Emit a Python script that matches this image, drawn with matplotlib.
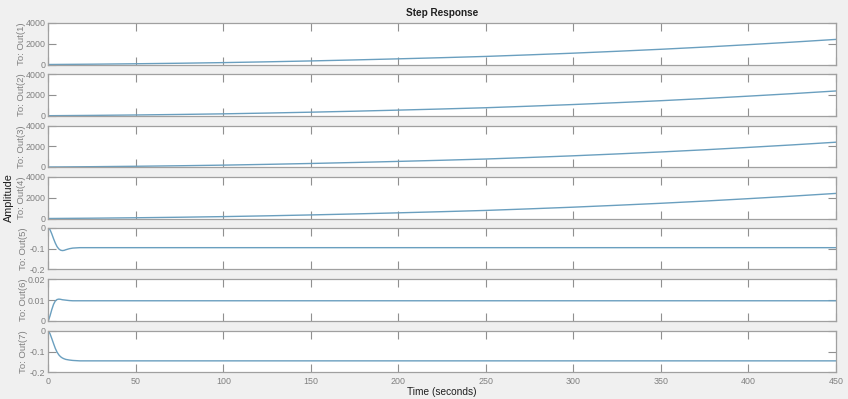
import matplotlib
matplotlib.use("Agg")
import matplotlib.pyplot as plt

plt.rcParams["font.family"] = ["Liberation Sans", "DejaVu Sans"]

# ---- data ----
t_slow = [0, 25, 50, 75, 100, 125, 150, 175, 200, 225, 250, 275, 300, 325, 350, 375, 400, 425, 450]
out1 = [0, 30, 70, 120, 180, 255, 340, 435, 540, 650, 770, 920, 1080, 1260, 1450, 1660, 1890, 2130, 2390]
out2 = [0, 30, 70, 120, 180, 255, 340, 435, 540, 650, 770, 920, 1080, 1260, 1450, 1660, 1890, 2130, 2390]
out3 = [0, 30, 70, 120, 180, 255, 340, 435, 540, 650, 770, 920, 1080, 1260, 1450, 1660, 1890, 2130, 2390]
out4 = [0, 30, 70, 120, 180, 255, 340, 435, 540, 650, 770, 920, 1080, 1260, 1450, 1660, 1890, 2130, 2390]

t_fast = [0, 1, 2, 3, 4, 5, 6, 7, 8, 9, 10, 12, 14, 16, 18, 20, 30, 450]
out5 = [0, -0.010, -0.030, -0.053, -0.074, -0.091, -0.102, -0.108, -0.110, -0.109, -0.106,
        -0.101, -0.098, -0.097, -0.096, -0.096, -0.096, -0.096]
out6 = [0, 0.0025, 0.0055, 0.0080, 0.0096, 0.0103, 0.0105, 0.0104, 0.0102, 0.0101, 0.0100,
        0.0098, 0.0097, 0.0097, 0.0097, 0.0097, 0.0097, 0.0097]
out7 = [0, -0.015, -0.038, -0.062, -0.085, -0.103, -0.116, -0.125, -0.131, -0.135, -0.138,
        -0.141, -0.143, -0.144, -0.145, -0.145, -0.145, -0.145]

series = [(t_slow, out1), (t_slow, out2), (t_slow, out3), (t_slow, out4),
          (t_fast, out5), (t_fast, out6), (t_fast, out7)]
out_names = ["To: Out(1)", "To: Out(2)", "To: Out(3)", "To: Out(4)",
             "To: Out(5)", "To: Out(6)", "To: Out(7)"]
ylims = [(0, 4000)] * 4 + [(-0.2, 0), (0, 0.02), (-0.2, 0)]
yticks = [[0, 2000, 4000]] * 4 + [[-0.2, -0.1, 0], [0, 0.01, 0.02], [-0.2, -0.1, 0]]
yticklabels = [["0", "2000", "4000"]] * 4 + [["-0.2", "-0.1", "0"], ["0", "0.01", "0.02"], ["-0.2", "-0.1", "0"]]
xticks = [0, 50, 100, 150, 200, 250, 300, 350, 400, 450]
xticklabels = ["0", "50", "100", "150", "200", "250", "300", "350", "400", "450"]

# ---- figure ----
W, H = 848, 399
fig = plt.figure(figsize=(W / 100, H / 100), dpi=100, facecolor="#f0f0f0")

left_px, right_px = 48.3, 836
tops = [22.5, 74.3, 125.5, 176.5, 227.7, 279.3, 330.7]
bots = [64.5, 115.7, 167, 218.5, 269.3, 321, 372.3]

gray = "#808080"
spine_c = "#a0a0a0"
line_c = "#6a9fbf"

for i in range(7):
    ax = fig.add_axes([left_px / W, 1 - bots[i] / H, (right_px - left_px) / W, (bots[i] - tops[i]) / H])
    ax.set_facecolor("white")
    t, y = series[i]
    ax.plot(t, y, color=line_c, lw=1.0)
    ax.set_xlim(0, 450)
    ax.set_ylim(*ylims[i])
    ax.set_xticks(xticks)
    ax.set_yticks(yticks[i])
    ax.set_yticklabels(yticklabels[i])
    if i == 6:
        ax.set_xticklabels(xticklabels)
    else:
        ax.set_xticklabels([])
    ax.tick_params(axis="both", direction="in", length=6, width=0.8, color="#909090",
                   labelcolor=gray, labelsize=6.4, top=True, right=True, pad=2)
    ax.tick_params(axis="x", pad=3.5)
    for s in ax.spines.values():
        s.set_color(spine_c)
        s.set_linewidth(0.9)
    ax.set_ylabel(out_names[i], color=gray, fontsize=6.8)
    edge_px = 25.5 if i < 4 else 28.5
    ax.yaxis.set_label_coords((edge_px - left_px) / (right_px - left_px), 0.5)

fig.text(442 / W, 1 - 12.5 / H, "Step Response", ha="center", va="center",
         fontsize=7.2, fontweight="bold", color="#202020")
fig.text(442 / W, 1 - 392 / H, "Time (seconds)", ha="center", va="center",
         fontsize=7.3, color="#202020")
fig.text(8.5 / W, 1 - 198 / H, "Amplitude", ha="center", va="center",
         fontsize=7.8, rotation=90, color="#202020")

fig.savefig("out.png", dpi=100, facecolor=fig.get_facecolor())
